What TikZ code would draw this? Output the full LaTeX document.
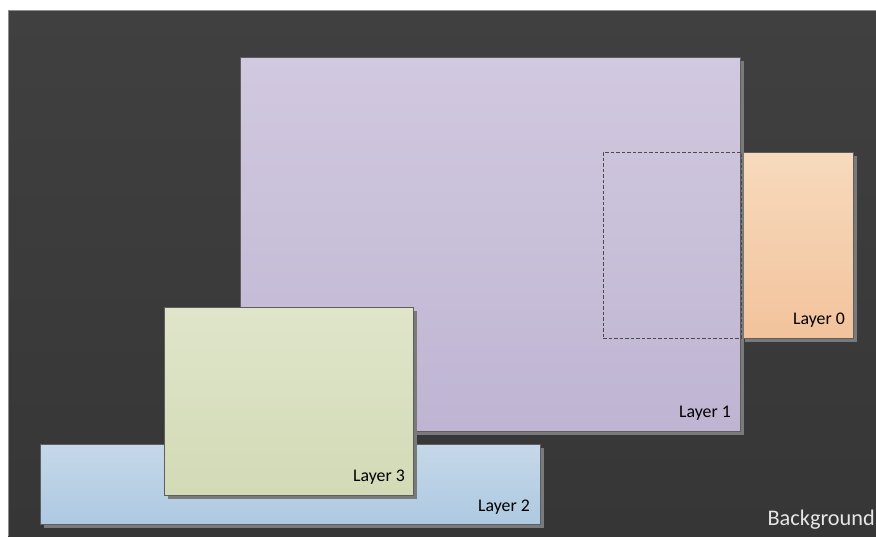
\documentclass[tikz,border=0pt]{standalone}
\usepackage{fontspec}
\setmainfont{Carlito}
\usetikzlibrary{shadows}

\definecolor{bgtop}{HTML}{404040}
\definecolor{bgbot}{HTML}{363636}
\definecolor{bgedge}{HTML}{8C8C8C}
\definecolor{shadowgray}{HTML}{7A7A7A}
\definecolor{edgegray}{HTML}{5E5E5E}
\definecolor{purpletop}{HTML}{D1C9DF}
\definecolor{purplebot}{HTML}{BFB5D3}
\definecolor{orangetop}{HTML}{F7DABD}
\definecolor{orangebot}{HTML}{F2C39C}
\definecolor{greentop}{HTML}{E0E5CA}
\definecolor{greenbot}{HTML}{D2DAB6}
\definecolor{bluetop}{HTML}{C6D8E9}
\definecolor{bluebot}{HTML}{ADC9E1}
\definecolor{bgtext}{HTML}{E6E6E6}

\tikzset{
  layerbox/.style={rectangle, anchor=north west, inner sep=0pt, outer sep=0pt,
    draw=edgegray, line width=0.9pt,
    general shadow={fill=shadowgray, shadow xshift=4pt, shadow yshift=-4pt}},
  hiddenbox/.style={rectangle, anchor=north west, inner sep=0pt, outer sep=0pt,
    draw=edgegray!80!black, line width=0.9pt, dash pattern=on 3.5pt off 2pt},
  layerlabel/.style={anchor=base east, inner sep=0pt, font=\fontsize{17.8}{20}\selectfont, text=black},
}

\begin{document}
\begin{tikzpicture}[x=1pt, y=-1pt]
  \useasboundingbox (0,0) rectangle (876,536);
  % canvas
  \fill[white] (0,0) rectangle (876,536);
  \node[rectangle, anchor=north west, inner sep=0pt, outer sep=0pt,
        minimum width=868pt, minimum height=526pt,
        top color=bgtop, bottom color=bgbot] (bg) at (8,10) {};
  \draw[bgedge, line width=1pt] (bg.south west) -- (bg.north west) -- (bg.north east);

  % Layer 0 (partly covered by Layer 1)
  \node[layerbox, minimum width=112pt, minimum height=186pt,
        top color=orangetop, bottom color=orangebot] (l0) at (741,152) {};
  % Layer 1
  \node[layerbox, minimum width=500pt, minimum height=374pt,
        top color=purpletop, bottom color=purplebot] (l1) at (240,57) {};
  % hidden part of Layer 0
  \node[hiddenbox, minimum width=138pt, minimum height=186pt] (l0hidden) at (603,152) {};
  % Layer 2
  \node[layerbox, minimum width=500pt, minimum height=80pt,
        top color=bluetop, bottom color=bluebot] (l2) at (40,444) {};
  % Layer 3
  \node[layerbox, minimum width=249pt, minimum height=188pt,
        top color=greentop, bottom color=greenbot] (l3) at (164,307) {};

  % labels
  \node[layerlabel] (t0) at (845,324) {Layer 0};
  \node[layerlabel] (t1) at (731,417) {Layer 1};
  \node[layerlabel] (t2) at (530,511.5) {Layer 2};
  \node[layerlabel] (t3) at (405,481) {Layer 3};
  \node[anchor=base east, inner sep=0pt, font=\fontsize{22.3}{25}\selectfont, text=bgtext] (tbg) at (875,525.5) {Background};
\end{tikzpicture}
\end{document}
